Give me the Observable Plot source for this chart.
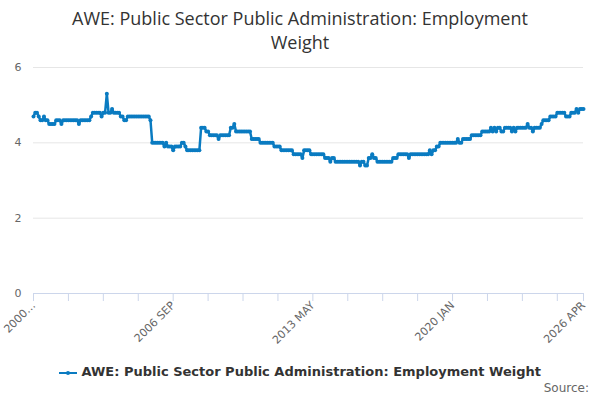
<!DOCTYPE html>
<html><head><meta charset="utf-8">
<script src="https://cdn.jsdelivr.net/npm/d3@7"></script>
<script src="https://cdn.jsdelivr.net/npm/@observablehq/plot@0.6"></script>
<style>
body{margin:0;width:600px;height:400px;font-family:"Open Sans",sans-serif;background:#fff;position:relative;overflow:hidden}
#title{height:55px;text-align:center;font-size:18px;line-height:24px;color:#333;padding-top:6px;box-sizing:border-box}
#legend{position:absolute;top:364px;width:100%;text-align:center;font-size:13px;font-weight:bold;color:#333;font-family:"DejaVu Sans",sans-serif}
#src{position:absolute;top:381px;right:11px;font-size:12px;color:#666;font-family:"DejaVu Sans",sans-serif}
</style></head><body>
<div id="title">AWE: Public Sector Public Administration: Employment<br>Weight</div>
<div id="chart"></div>
<div id="legend"><svg width="18" height="10" style="vertical-align:middle"><line x1="0" y1="5" x2="18" y2="5" stroke="#0a7bc1" stroke-width="2"/><circle cx="9" cy="5" r="2" fill="#0a7bc1"/></svg> AWE: Public Sector Public Administration: Employment Weight</div>
<div id="src">Source:</div>
<script>
const values = [
4.7,4.8,4.8,4.7,4.6,4.6,4.7,4.6,4.6,4.5,4.5,4.5,
4.5,4.6,4.6,4.6,4.5,4.6,4.6,4.6,4.6,4.6,4.6,4.6,
4.6,4.6,4.5,4.6,4.6,4.6,4.6,4.6,4.6,4.7,4.8,4.8,
4.8,4.8,4.8,4.7,4.8,4.8,5.3,4.8,4.8,4.9,4.8,4.8,
4.8,4.8,4.7,4.7,4.6,4.6,4.7,4.7,4.7,4.7,4.7,4.7,
4.7,4.7,4.7,4.7,4.7,4.7,4.7,4.6,4.0,4.0,4.0,4.0,
4.0,4.0,4.0,3.9,4.0,3.9,3.9,3.9,3.8,3.9,3.9,3.9,
3.9,4.0,4.0,3.9,3.8,3.8,3.8,3.8,3.8,3.8,3.8,3.8,
4.4,4.4,4.4,4.3,4.3,4.2,4.2,4.2,4.2,4.2,4.1,4.2,
4.2,4.2,4.2,4.2,4.2,4.4,4.4,4.5,4.3,4.3,4.3,4.3,
4.3,4.3,4.3,4.3,4.3,4.1,4.1,4.1,4.1,4.1,4.0,4.0,
4.0,4.0,4.0,4.0,4.0,4.0,3.9,3.9,3.9,3.9,3.8,3.8,
3.8,3.8,3.8,3.8,3.8,3.7,3.7,3.7,3.7,3.7,3.6,3.8,
3.8,3.8,3.8,3.7,3.7,3.7,3.7,3.7,3.7,3.7,3.7,3.6,
3.6,3.6,3.5,3.6,3.6,3.5,3.5,3.5,3.5,3.5,3.5,3.5,
3.5,3.5,3.5,3.5,3.5,3.5,3.5,3.4,3.5,3.5,3.4,3.4,
3.6,3.6,3.7,3.6,3.6,3.5,3.5,3.5,3.5,3.5,3.5,3.5,
3.5,3.5,3.6,3.6,3.6,3.7,3.7,3.7,3.7,3.7,3.7,3.6,
3.7,3.7,3.7,3.7,3.7,3.7,3.7,3.7,3.7,3.7,3.7,3.8,
3.7,3.8,3.8,3.9,3.9,4.0,4.0,4.0,4.0,4.0,4.0,4.0,
4.0,4.0,4.0,4.1,4.0,4.0,4.1,4.1,4.1,4.1,4.1,4.2,
4.2,4.2,4.2,4.2,4.2,4.3,4.3,4.3,4.3,4.3,4.4,4.3,
4.4,4.3,4.4,4.4,4.3,4.3,4.4,4.4,4.4,4.4,4.3,4.4,
4.3,4.4,4.4,4.4,4.4,4.4,4.4,4.5,4.4,4.4,4.3,4.4,
4.4,4.4,4.4,4.5,4.6,4.6,4.6,4.6,4.7,4.7,4.7,4.7,
4.8,4.8,4.8,4.8,4.8,4.7,4.7,4.7,4.8,4.8,4.8,4.9,
4.8,4.9,4.9,4.9
];
const startYear = 2000;
const monthNames = ["JAN","FEB","MAR","APR","MAY","JUN","JUL","AUG","SEP","OCT","NOV","DEC"];
const tickPositions = [0,20,40,60,80,100,120,140,160,180,200,220,240,260,280,300,315];
const tickLabels = {0:"2000…",80:"2006 SEP",160:"2013 MAY",240:"2020 JAN",315:"2026 APR"};
const yTicks = [0,2,4,6];
const data = values.map((v,i)=>({i, v, label: (startYear+Math.floor(i/12))+" "+monthNames[i%12]}));
const color = "#0a7bc1";
const chart = Plot.plot({
  width:600, height:300, marginTop:12, marginBottom:62, marginLeft:33, marginRight:17,
  style:{fontFamily:"DejaVu Sans, sans-serif", fontSize:"11px", color:"#666"},
  x:{domain:[0,values.length-1], label:null},
  y:{domain:[0,6], label:null},
  marks:[
    Plot.gridY(yTicks,{stroke:"#e6e6e6", strokeOpacity:1}),
    Plot.ruleY([0],{stroke:"#ccd6eb"}),
    Plot.axisX({ticks:tickPositions, tickFormat:d=>tickLabels[d]??"", tickRotate:-45, tickSize:8, tickPadding:2, stroke:"#ccd6eb", fill:"#666", fontSize:11}),
    Plot.axisY({ticks:yTicks, tickFormat:d=>String(d), tickSize:0, tickPadding:12, fill:"#666", fontSize:11}),
    Plot.line(data,{x:"i", y:"v", stroke:color, strokeWidth:2.5}),
    Plot.dot(data,{x:"i", y:"v", fill:color, r:2})
  ]
});
document.getElementById("chart").appendChild(chart);
</script>
</body></html>
